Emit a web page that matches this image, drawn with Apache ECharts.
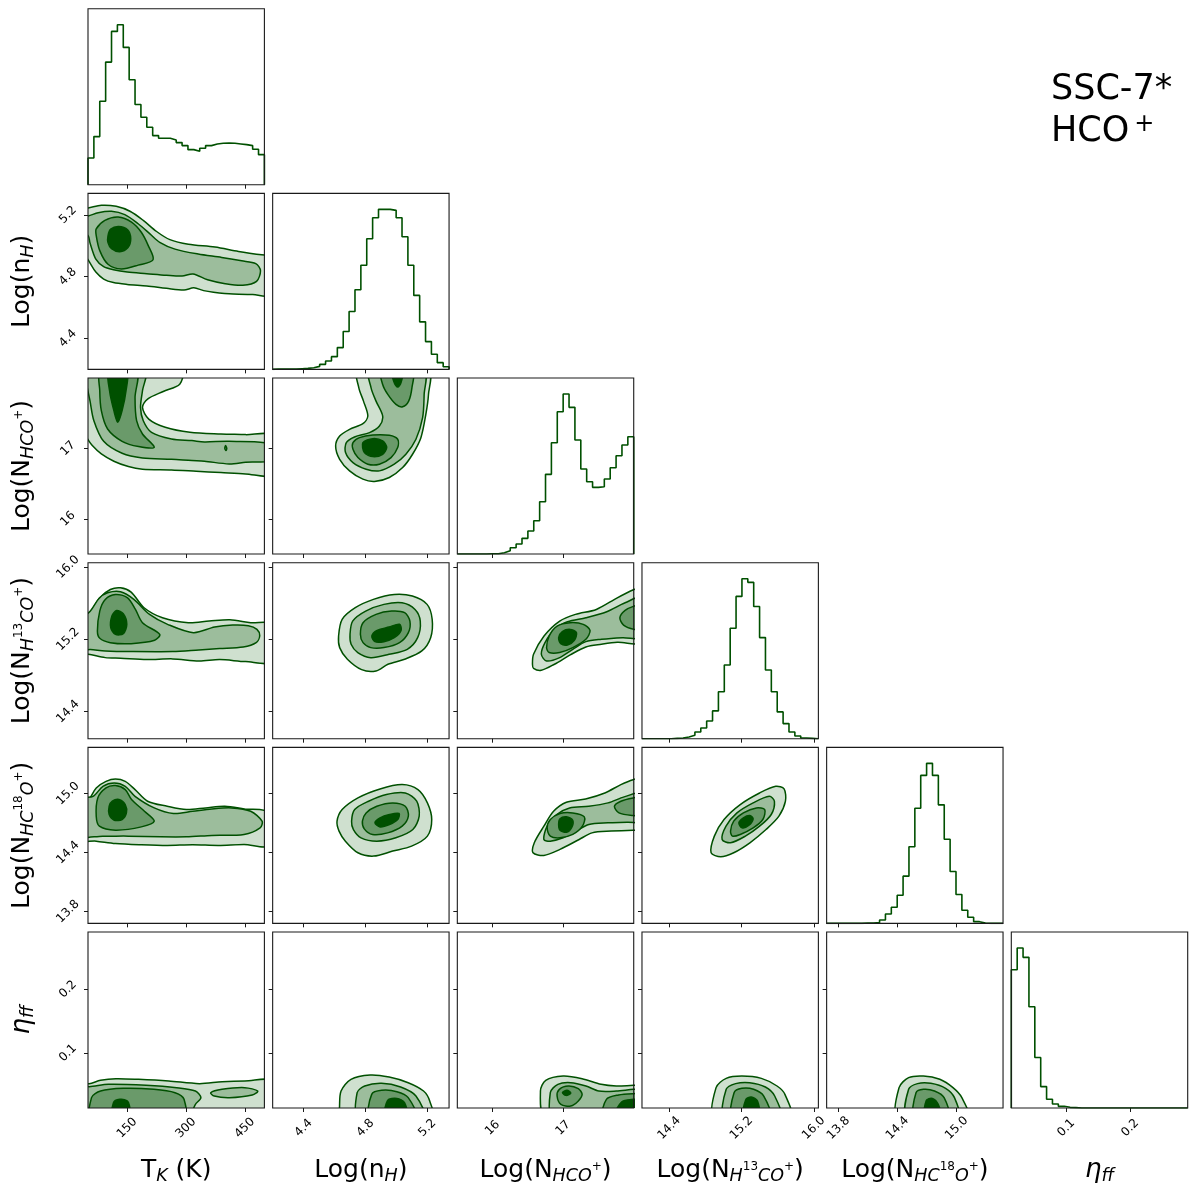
<!DOCTYPE html>
<html><head><meta charset="utf-8">
<script src="https://cdn.jsdelivr.net/npm/echarts@6.0.0/dist/echarts.min.js"></script>
<style>html,body{margin:0;padding:0;background:#fff}#c{width:1200px;height:1197px}</style>
</head><body><div id="c"></div>
<script>
const FONT = 'DejaVu Sans';
const LINE = '#005000';
const FILLS = ['#cfe0cf', '#9cbd9c', '#6a9a6a', '#005000'];

// axis titles (rich text)
const axisTitles = [
  '{n|T}{s|K}{n| (K)}',
  '{n|Log(n}{s|H}{n|)}',
  '{n|Log(N}{s|HCO}{ss|+}{n|)}',
  '{n|Log(N}{s|H}{ss|13}{s|CO}{ss|+}{n|)}',
  '{n|Log(N}{s|HC}{ss|18}{s|O}{ss|+}{n|)}',
  '{i|η}{s|ff}'
];
const axisMin = [50, 4.2, 15.5, 14.1, 13.68, 0.014];
const axisMax = [500, 5.34, 18.0, 16.05, 15.47, 0.29];
const tickValues = [[150, 300, 450], [4.4, 4.8, 5.2], [16, 17], [14.4, 15.2, 16.0], [13.8, 14.4, 15.0], [0.1, 0.2]];
const tickDecimals = [0, 1, 0, 1, 1, 1];

// 1D histograms (30 bins over each axis range)
const histTK = [80,144,250,367,459,479,411,314,240,202,172,147,139,139,134,126,117,105,100,109,117,122,124,125,124,122,120,117,106,90];
const histNH = [1,1,1,1,2,3,5,9,15,25,38,65,113,173,238,311,390,453,478,478,475,453,396,311,221,142,83,45,20,8];
const histHCO = [0,0,0,0,0,1,1,4,10,19,30,47,69,100,157,239,334,427,480,440,342,255,217,200,202,225,259,295,327,352];
const histH13CO = [0,0,0,0,0,1,2,5,10,20,32,53,83,140,220,330,425,478,467,395,302,205,140,80,45,20,8,2,1,0];
const histHC18O = [0,0,0,0,0,0,1,1,2,10,28,48,84,141,229,344,442,478,442,354,251,155,86,39,18,5,1,0,0,0];
const histEta = [414,479,451,303,151,64,26,12,5,2,1,0,0,0,0,0,0,0,0,0,0,0,0,0,0,0,0,0,0,0];

// 2D contours: [level, [[x,y],...]] in data units
const cont_nH_TK = [
 [0, [[30,5.24],[50,5.245],[84,5.263],[122,5.256],[157,5.224],[191,5.165],[225,5.093],[259,5.04],[306,5.01],[374,4.992],[434,4.964],[500,4.94],[520,4.935],[520,4.683],[470,4.685],[420,4.688],[370,4.70],[345,4.71],[320,4.728],[295,4.714],[250,4.725],[200,4.74],[150,4.75],[115,4.762],[90,4.785],[70,4.83],[55,4.89],[40,4.95],[30,4.97]]],
 [1, [[30,5.19],[50,5.193],[76,5.215],[110,5.224],[144,5.202],[178,5.143],[208,5.078],[233,5.023],[272,4.979],[331,4.947],[391,4.925],[442,4.903],[478,4.885],[490,4.84],[480,4.77],[445,4.745],[400,4.755],[355,4.78],[318,4.818],[290,4.805],[250,4.81],[200,4.82],[150,4.83],[115,4.845],[90,4.865],[70,4.914],[55,5.02],[50,5.067],[30,5.08]]],
 [2, [[71,5.11],[93,5.165],[127,5.187],[161,5.154],[186,5.088],[204,5.0],[216,4.91],[178,4.875],[135,4.85],[101,4.881],[80,4.969],[71,5.067]]],
 [3, [[101,5.065],[108,5.108],[128,5.126],[151,5.104],[159,5.047],[152,4.989],[131,4.962],[110,4.982],[101,5.021]]]
];
const cont_HCO_TK = [
 [0, [[30,18.1],[289,18.1],[284,17.913],[242,17.809],[202,17.701],[189,17.583],[205,17.417],[247,17.30],[310,17.229],[389,17.205],[452,17.196],[520,17.18],[520,16.63],[452,16.638],[389,16.657],[326,16.676],[263,16.695],[189,16.705],[153,16.742],[116,16.818],[84,16.922],[61,17.04],[42,17.181],[30,17.205]]],
 [1, [[40,18.1],[195,18.1],[189,17.819],[184,17.583],[191,17.394],[212,17.229],[263,17.134],[315,17.111],[347,17.092],[410,17.101],[520,17.054],[520,16.837],[452,16.804],[410,16.78],[347,16.818],[315,16.827],[263,16.846],[189,16.865],[137,16.931],[90,17.101],[65,17.394],[55,17.677],[48,17.866]]],
 [2, [[82,18.1],[174,18.1],[170,17.724],[174,17.394],[189,17.205],[219,17.016],[179,17.026],[137,17.101],[100,17.276],[84,17.536],[80,17.819]]],
 [2, [[401,17.04],[404,17.0],[402,16.97],[399,17.0]]],
 [3, [[103,18.1],[149,18.1],[147,17.819],[137,17.536],[126,17.37],[116,17.536],[105,17.819]]]
];
const cont_HCO_nH = [
 [0, [[4.750,18.1],[5.207,18.1],[5.207,17.767],[5.190,17.484],[5.158,17.153],[5.104,16.917],[5.040,16.728],[4.954,16.587],[4.858,16.530],[4.783,16.563],[4.697,16.681],[4.633,16.846],[4.607,17.035],[4.633,17.177],[4.697,17.271],[4.783,17.351],[4.815,17.46],[4.787,17.672],[4.757,17.861]]],
 [1, [[4.826,18.1],[5.179,18.1],[5.179,17.767],[5.169,17.436],[5.126,17.13],[5.061,16.917],[4.986,16.776],[4.890,16.681],[4.804,16.705],[4.719,16.799],[4.671,16.941],[4.676,17.082],[4.729,17.163],[4.826,17.224],[4.890,17.318],[4.911,17.46],[4.868,17.672],[4.836,17.861]]],
 [2, [[4.901,18.1],[5.104,18.1],[5.100,17.861],[5.079,17.672],[5.040,17.592],[4.997,17.625],[4.944,17.767],[4.911,17.908]]],
 [2, [[4.719,17.082],[4.761,17.153],[4.847,17.191],[4.954,17.186],[5.008,17.13],[5.008,17.012],[4.965,16.87],[4.890,16.776],[4.815,16.776],[4.751,16.87],[4.719,16.988]]],
 [3, [[4.971,18.1],[5.04,18.1],[5.029,17.932],[5.008,17.871],[4.986,17.932]]],
 [3, [[4.783,17.082],[4.847,17.139],[4.911,17.106],[4.937,17.012],[4.911,16.917],[4.847,16.884],[4.793,16.941]]]
];
const cont_H13_TK = [
 [0, [[27,15.459],[51,15.477],[80,15.661],[107,15.753],[133,15.772],[160,15.724],[193,15.551],[240,15.44],[306,15.385],[359,15.403],[412,15.418],[465,15.385],[519,15.367],[519,14.954],[452,14.954],[386,14.976],[333,14.961],[266,14.984],[200,14.976],[133,14.991],[94,14.998],[51,15.035],[27,15.042]]],
 [1, [[27,15.385],[56,15.514],[78,15.654],[100,15.716],[133,15.727],[167,15.643],[207,15.477],[253,15.367],[319,15.275],[373,15.337],[419,15.359],[459,15.352],[481,15.311],[488,15.238],[479,15.164],[446,15.116],[386,15.098],[333,15.083],[266,15.065],[160,15.065],[94,15.072],[56,15.087],[27,15.09]]],
 [2, [[74,15.293],[80,15.514],[94,15.643],[120,15.698],[151,15.661],[171,15.532],[189,15.385],[233,15.256],[220,15.19],[160,15.153],[107,15.164],[80,15.212]]],
 [3, [[111,15.459],[123,15.521],[140,15.484],[149,15.367],[140,15.263],[120,15.256],[108,15.33]]]
];
const cont_H13_nH = [
 [0, [[4.626,15.238],[4.649,15.422],[4.734,15.551],[4.851,15.643],[4.986,15.698],[5.103,15.68],[5.198,15.588],[5.231,15.422],[5.221,15.219],[5.164,15.072],[5.053,14.98],[4.945,14.925],[4.868,14.851],[4.775,14.865],[4.683,14.98],[4.633,15.109]]],
 [1, [[4.70,15.256],[4.717,15.403],[4.801,15.514],[4.919,15.588],[5.036,15.606],[5.12,15.532],[5.154,15.403],[5.137,15.219],[5.07,15.09],[4.952,15.035],[4.834,14.998],[4.75,15.054],[4.707,15.146]]],
 [2, [[4.767,15.256],[4.784,15.385],[4.868,15.477],[4.969,15.514],[5.053,15.496],[5.087,15.403],[5.077,15.275],[5.02,15.164],[4.919,15.109],[4.834,15.109],[4.784,15.164]]],
 [3, [[4.841,15.238],[4.875,15.30],[4.952,15.337],[5.02,15.367],[5.03,15.30],[4.986,15.219],[4.919,15.175],[4.861,15.175]]]
];
const cont_H13_HCO = [
 [0, [[16.565,14.925],[16.58,15.035],[16.729,15.238],[16.951,15.403],[17.174,15.477],[17.47,15.532],[17.767,15.661],[18.004,15.753],[18.138,15.79],[18.138,15.175],[17.767,15.168],[17.544,15.146],[17.322,15.116],[17.1,15.028],[16.877,14.925],[16.691,14.858],[16.58,14.88]]],
 [1, [[16.691,15.035],[16.743,15.164],[16.877,15.311],[17.062,15.396],[17.322,15.44],[17.618,15.507],[17.878,15.606],[18.138,15.669],[18.138,15.227],[17.841,15.219],[17.544,15.201],[17.322,15.175],[17.136,15.09],[16.951,14.998],[16.765,14.961]]],
 [2, [[16.765,15.109],[16.802,15.238],[16.914,15.348],[17.099,15.385],[17.285,15.367],[17.381,15.3],[17.322,15.201],[17.136,15.109],[16.951,15.054],[16.802,15.054]]],
 [2, [[17.804,15.44],[17.878,15.521],[18.004,15.569],[18.138,15.588],[18.138,15.311],[18.004,15.311],[17.856,15.359]]],
 [3, [[16.936,15.219],[16.988,15.286],[17.099,15.311],[17.188,15.275],[17.159,15.19],[17.062,15.138],[16.966,15.153]]]
];
const cont_H18_TK = [
 [0, [[22,14.922],[48,14.922],[71,15.057],[96,15.124],[120,15.148],[145,15.124],[170,15.04],[202,14.922],[252,14.871],[301,14.837],[350,14.854],[399,14.871],[448,14.844],[514,14.803],[514,14.472],[448,14.482],[383,14.472],[317,14.479],[252,14.472],[186,14.479],[120,14.492],[71,14.516],[22,14.533]]],
 [1, [[22,14.939],[63,14.972],[88,15.074],[117,15.108],[145,15.074],[170,14.972],[219,14.854],[268,14.797],[317,14.82],[366,14.844],[416,14.854],[465,14.82],[494,14.719],[489,14.651],[448,14.584],[366,14.574],[301,14.56],[235,14.56],[153,14.567],[88,14.567],[22,14.574]]],
 [2, [[71,14.77],[75,14.955],[96,15.057],[120,15.081],[145,15.04],[161,14.939],[194,14.82],[219,14.719],[186,14.661],[120,14.628],[79,14.668]]],
 [3, [[104,14.871],[112,14.922],[129,14.939],[145,14.888],[148,14.803],[137,14.736],[117,14.729],[104,14.786]]]
];
const cont_H18_nH = [
 [0, [[4.616,14.719],[4.649,14.837],[4.751,14.956],[4.894,15.047],[5.037,15.091],[5.139,15.04],[5.2,14.905],[5.228,14.736],[5.2,14.567],[5.098,14.465],[4.976,14.415],[4.853,14.364],[4.751,14.398],[4.67,14.516],[4.629,14.618]]],
 [1, [[4.71,14.719],[4.73,14.837],[4.82,14.922],[4.935,14.99],[5.057,15.006],[5.131,14.922],[5.147,14.77],[5.106,14.634],[4.996,14.55],[4.873,14.516],[4.771,14.55],[4.722,14.634]]],
 [2, [[4.78,14.719],[4.804,14.803],[4.873,14.871],[4.976,14.905],[5.057,14.871],[5.077,14.77],[5.037,14.668],[4.943,14.6],[4.845,14.584],[4.792,14.641]]],
 [3, [[4.861,14.702],[4.894,14.753],[4.955,14.787],[5.017,14.797],[5.008,14.736],[4.955,14.685],[4.894,14.661]]]
];
const cont_H18_HCO = [
 [0, [[16.573,14.398],[16.591,14.5],[16.727,14.668],[16.864,14.82],[17.046,14.912],[17.318,14.945],[17.591,15.006],[17.818,15.091],[17.991,15.141],[18.182,15.168],[18.182,14.628],[17.991,14.628],[17.682,14.618],[17.409,14.6],[17.227,14.533],[16.955,14.432],[16.727,14.371]]],
 [1, [[16.727,14.533],[16.773,14.668],[16.909,14.787],[17.091,14.854],[17.364,14.871],[17.636,14.905],[17.864,14.966],[18.182,15.013],[18.182,14.719],[17.909,14.709],[17.636,14.702],[17.364,14.685],[17.182,14.618],[17.0,14.55],[16.818,14.516]]],
 [2, [[16.773,14.651],[16.818,14.736],[16.955,14.797],[17.136,14.803],[17.3,14.763],[17.273,14.668],[17.136,14.584],[16.955,14.55],[16.818,14.567]]],
 [2, [[17.727,14.871],[17.818,14.922],[17.991,14.955],[18.182,14.972],[18.182,14.776],[17.991,14.776],[17.791,14.803]]],
 [3, [[16.936,14.685],[16.955,14.743],[17.046,14.763],[17.136,14.729],[17.118,14.651],[17.046,14.607],[16.955,14.628]]]
];
const cont_H18_H13 = [
 [0, [[14.864,14.398],[14.9,14.567],[15.007,14.736],[15.186,14.888],[15.4,15.006],[15.579,15.074],[15.671,15.047],[15.686,14.922],[15.614,14.77],[15.471,14.634],[15.293,14.499],[15.114,14.398],[14.971,14.357]]],
 [1, [[14.986,14.533],[15.029,14.668],[15.15,14.803],[15.329,14.905],[15.507,14.972],[15.564,14.922],[15.529,14.787],[15.4,14.668],[15.243,14.567],[15.079,14.499]]],
 [2, [[15.079,14.618],[15.114,14.719],[15.221,14.803],[15.364,14.854],[15.457,14.837],[15.436,14.736],[15.329,14.651],[15.186,14.584],[15.1,14.567]]],
 [3, [[15.171,14.702],[15.221,14.753],[15.293,14.776],[15.329,14.743],[15.279,14.675],[15.207,14.651]]]
];
const cont_Eta_TK = [
 [0, [[24,0.0522],[53,0.0522],[82,0.0574],[121,0.060],[179,0.059],[256,0.0564],[334,0.0522],[392,0.0553],[450,0.0564],[527,0.0553],[527,-0.012],[24,-0.012]]],
 [1, [[24,0.0485],[53,0.0475],[102,0.0511],[198,0.0496],[276,0.0459],[324,0.0406],[338,0.0302],[324,0.0197],[318,0.0093],[318,-0.012],[24,-0.012]]],
 [1, [[363,0.038],[392,0.0433],[450,0.0459],[483,0.0406],[469,0.0344],[411,0.0302],[372,0.0328]]],
 [2, [[59,-0.012],[59,0.0302],[82,0.0406],[140,0.0448],[218,0.0433],[272,0.038],[295,0.0276],[295,-0.012]]],
 [3, [[111,-0.012],[115,0.0223],[131,0.0276],[150,0.025],[156,0.017],[156,-0.012]]]
];
const cont_Eta_nH = [
 [0, [[4.632,-0.001],[4.632,0.015],[4.642,0.0406],[4.706,0.059],[4.83,0.0658],[4.953,0.0626],[5.076,0.0537],[5.175,0.0406],[5.215,0.025],[5.23,-0.001]]],
 [1, [[4.756,-0.001],[4.746,0.038],[4.795,0.0485],[4.904,0.0527],[5.027,0.0469],[5.126,0.0328],[5.175,-0.001]]],
 [2, [[4.83,-0.001],[4.84,0.0354],[4.904,0.0417],[5.003,0.0396],[5.076,0.0302],[5.126,-0.001]]],
 [3, [[4.928,-0.001],[4.943,0.026],[5.003,0.0291],[5.052,0.0223],[5.067,-0.001]]]
];
const cont_Eta_HCO = [
 [0, [[16.753,-0.001],[16.678,0.0406],[16.753,0.0574],[17.0,0.0642],[17.269,0.06],[17.538,0.0511],[17.753,0.0485],[18.0,0.0496],[18.183,0.0496],[18.183,-0.001]]],
 [1, [[16.86,-0.001],[16.818,0.038],[16.925,0.0511],[17.108,0.0537],[17.323,0.0485],[17.506,0.0406],[17.753,0.0406],[18.0,0.0433],[18.183,0.0433],[18.183,-0.001]]],
 [2, [[16.914,0.0328],[16.946,0.0433],[17.075,0.0485],[17.215,0.0443],[17.269,0.0354],[17.215,0.025],[17.108,0.0171],[16.968,0.0197]]],
 [2, [[17.57,-0.001],[17.613,0.0276],[17.785,0.0344],[18.0,0.0365],[18.183,0.0365],[18.183,-0.001]]],
 [3, [[16.99,0.038],[17.054,0.0417],[17.108,0.0375],[17.043,0.0338]]],
 [3, [[17.731,-0.001],[17.828,0.0234],[18.0,0.0276],[18.183,0.0276],[18.183,-0.001]]]
];
const cont_Eta_H13 = [
 [0, [[14.902,-0.001],[14.919,0.0459],[15.031,0.0605],[15.204,0.0642],[15.42,0.0605],[15.593,0.0485],[15.68,0.0354],[15.74,-0.001]]],
 [1, [[15.014,-0.001],[15.031,0.0433],[15.135,0.0522],[15.291,0.0537],[15.464,0.0469],[15.567,0.0328],[15.628,-0.001]]],
 [2, [[15.1,-0.001],[15.118,0.038],[15.204,0.0448],[15.334,0.0433],[15.446,0.0328],[15.516,-0.001]]],
 [3, [[15.222,-0.001],[15.247,0.027],[15.308,0.0312],[15.377,0.025],[15.395,-0.001]]]
];
const cont_Eta_H18 = [
 [0, [[14.4,-0.001],[14.415,0.0459],[14.512,0.0616],[14.662,0.0642],[14.828,0.059],[14.962,0.0459],[15.052,0.0302],[15.112,-0.001]]],
 [1, [[14.497,-0.001],[14.512,0.0433],[14.602,0.0522],[14.737,0.0527],[14.887,0.0448],[14.977,0.0302],[15.015,-0.001]]],
 [2, [[14.572,-0.001],[14.587,0.038],[14.662,0.0433],[14.775,0.0406],[14.872,0.0302],[14.917,-0.001]]],
 [3, [[14.677,-0.001],[14.692,0.026],[14.752,0.0291],[14.812,0.0197],[14.835,-0.001]]]
];

const hists = [histTK, histNH, histHCO, histH13CO, histHC18O, histEta];
const contours = {
  '1-0': cont_nH_TK, '2-0': cont_HCO_TK, '2-1': cont_HCO_nH,
  '3-0': cont_H13_TK, '3-1': cont_H13_nH, '3-2': cont_H13_HCO,
  '4-0': cont_H18_TK, '4-1': cont_H18_nH, '4-2': cont_H18_HCO, '4-3': cont_H18_H13,
  '5-0': cont_Eta_TK, '5-1': cont_Eta_nH, '5-2': cont_Eta_HCO, '5-3': cont_Eta_H13, '5-4': cont_Eta_H18
};

const P_LEFT = 88, P_TOP = 8.7, STEP = 184.66, PW = 176.4, PH = 176;
const nameRich = {
  n: {fontSize: 25, fontFamily: FONT, color: '#000', lineHeight: 30},
  i: {fontSize: 26, fontFamily: FONT, fontStyle: 'italic', color: '#000', lineHeight: 30},
  s: {fontSize: 17.5, fontFamily: FONT, fontStyle: 'italic', color: '#000', lineHeight: 30, padding: [13, 0, 0, 0]},
  ss: {fontSize: 12, fontFamily: FONT, color: '#000', lineHeight: 30, padding: [0, 0, 6, 0]}
};
const tickLabelStyle = (show, dec) => ({
  show: show, rotate: 45, margin: 20, align: 'center', verticalAlign: 'middle',
  fontSize: 12, fontFamily: FONT, color: '#000',
  formatter: v => Number(v).toFixed(dec)
});

const grid = [], xAxis = [], yAxis = [], series = [];
let gi = 0;
for (let r = 0; r < 6; r++) {
  for (let c = 0; c <= r; c++) {
    grid.push({left: P_LEFT + c * STEP, top: P_TOP + r * STEP, width: PW, height: PH,
      show: true, borderColor: '#1a1a1a', borderWidth: 1.1, backgroundColor: 'transparent', z: 5});
    xAxis.push({
      gridIndex: gi, type: 'value', min: axisMin[c], max: axisMax[c],
      axisLine: {show: false}, splitLine: {show: false},
      axisTick: {show: true, customValues: tickValues[c], length: 4, lineStyle: {color: '#1a1a1a', width: 1}},
      axisLabel: Object.assign(tickLabelStyle(r === 5, tickDecimals[c]), {customValues: tickValues[c]}),
      name: r === 5 ? axisTitles[c] : '', nameLocation: 'middle', nameGap: 47,
      nameTextStyle: {rich: nameRich}
    });
    if (r === c) {
      const h = hists[c];
      yAxis.push({gridIndex: gi, type: 'value', min: 0, max: Math.max(...h) * 1.1, show: false});
      const lo = axisMin[c], hi = axisMax[c], w = (hi - lo) / h.length;
      const d = [[lo, 0]];
      h.forEach((v, k) => d.push([lo + k * w, v]));
      d.push([hi, h[h.length - 1]]);
      d.push([hi, 0]);
      series.push({type: 'line', xAxisIndex: gi, yAxisIndex: gi, step: 'end', data: d,
        showSymbol: false, symbol: 'none', silent: true, clip: true,
        lineStyle: {color: LINE, width: 1.6}});
    } else {
      yAxis.push({
        gridIndex: gi, type: 'value', min: axisMin[r], max: axisMax[r],
        axisLine: {show: false}, splitLine: {show: false},
        axisTick: {show: true, customValues: tickValues[r], length: 4, lineStyle: {color: '#1a1a1a', width: 1}},
        axisLabel: Object.assign(tickLabelStyle(c === 0, tickDecimals[r]), {customValues: tickValues[r]}),
        name: c === 0 ? axisTitles[r] : '', nameLocation: 'middle', nameGap: 51, nameRotate: 90,
        nameTextStyle: {rich: nameRich}
      });
      const polys = contours[r + '-' + c];
      series.push({
        type: 'custom', xAxisIndex: gi, yAxisIndex: gi, coordinateSystem: 'cartesian2d',
        clip: true, silent: true,
        data: polys.map(p => p[1][0]),
        renderItem: (params, api) => {
          const p = polys[params.dataIndex];
          return {type: 'polygon',
            shape: {points: p[1].map(q => api.coord(q)), smooth: 0.3},
            style: {fill: FILLS[p[0]], stroke: LINE, lineWidth: 1.5}};
        }
      });
    }
    gi++;
  }
}

const chart = echarts.init(document.getElementById('c'));
chart.setOption({
  animation: false,
  backgroundColor: '#fff',
  title: {
    left: 1046, top: 64,
    text: '{a|SSC-7*}\n{a|HCO}{p|+}',
    textStyle: {fontWeight: 'normal', rich: {
      a: {fontSize: 35, fontFamily: FONT, fontWeight: 'normal', color: '#000', lineHeight: 42},
      p: {fontSize: 24, fontFamily: FONT, fontWeight: 'normal', color: '#000', lineHeight: 42, padding: [0, 0, 14, 5]}
    }}
  },
  grid, xAxis, yAxis, series
});
</script></body></html>
